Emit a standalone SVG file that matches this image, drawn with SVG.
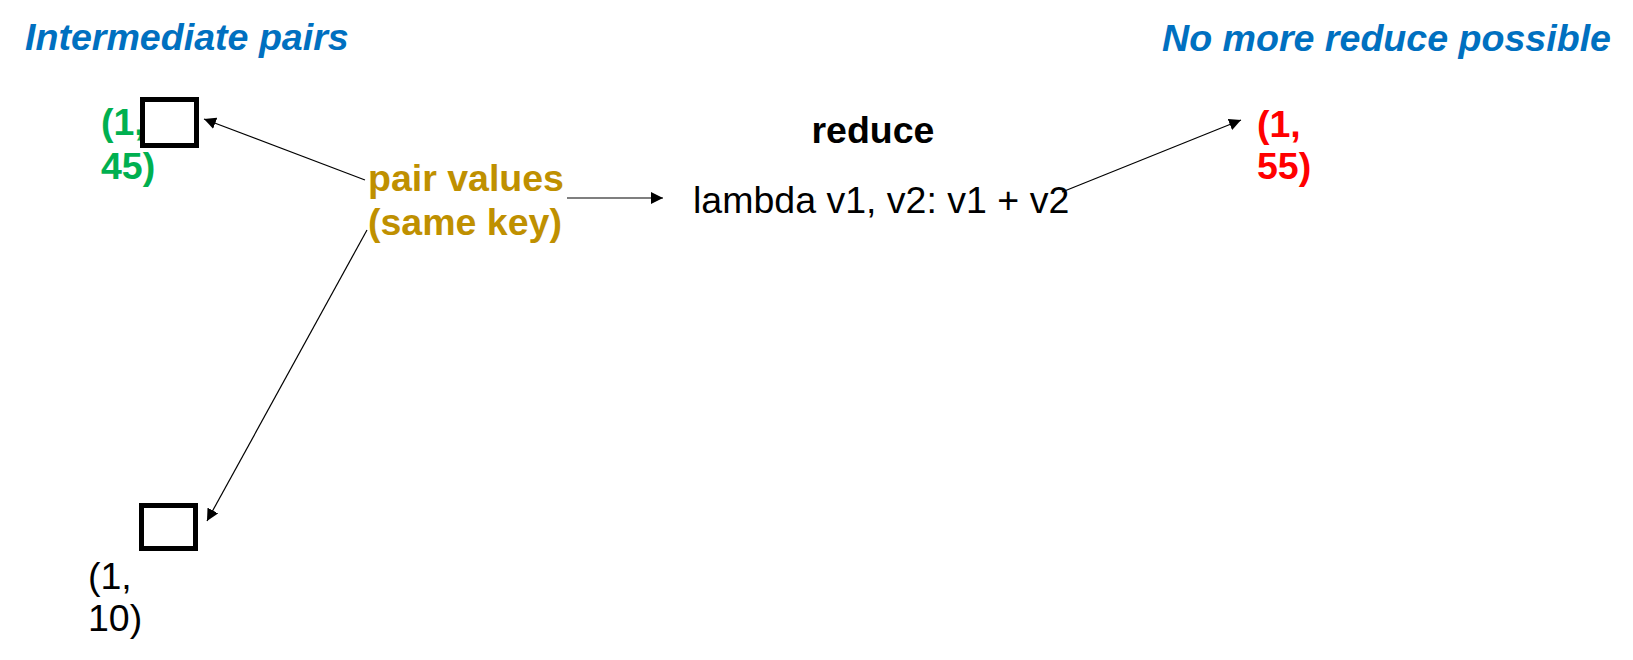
<svg xmlns="http://www.w3.org/2000/svg" width="1633" height="660" viewBox="0 0 1633 660">
<style>
  .title { font-family: "Liberation Sans", Arial, sans-serif; font-weight: bold; font-style: italic; font-size: 37.6px; fill: #0070C0; }
  .lbl { font-family: "Liberation Sans", Arial, sans-serif; font-size: 37.5px; }
  .b { font-weight: bold; }
  .box { fill: #fff; stroke: #000; stroke-width: 5; }
  .conn { stroke: #000; stroke-width: 1.2; fill: none; marker-end: url(#arr); }
</style>
<defs>
  <marker id="arr" viewBox="0 0 10 10" refX="10" refY="5" markerWidth="12" markerHeight="12" markerUnits="userSpaceOnUse" orient="auto">
    <path d="M0,0 L10,5 L0,10 z" fill="#000"/>
  </marker>
</defs>
<rect width="1633" height="660" fill="#fff"/>
<g id="title-left"><text class="title" x="25" y="50">Intermediate pairs</text></g>
<g id="title-right"><text class="title" x="1162" y="51">No more reduce possible</text></g>
<g id="pair-top">
  <text class="lbl b" x="101" y="135" fill="#00B050">(1,</text>
  <text class="lbl b" x="101" y="179" fill="#00B050">45)</text>
  <rect class="box" x="142.5" y="99.5" width="54" height="46"/>
</g>
<g id="pair-bottom">
  <rect class="box" x="141.5" y="505.5" width="54" height="43"/>
  <text class="lbl" x="88" y="589" fill="#000">(1,</text>
  <text class="lbl" x="88" y="631" fill="#000">10)</text>
</g>
<g id="pair-values">
  <text class="lbl b" x="368" y="191" fill="#BF9000">pair values</text>
  <text class="lbl b" x="368" y="235" fill="#BF9000">(same key)</text>
</g>
<g id="reduce">
  <text class="lbl b" x="873" y="143" text-anchor="middle" fill="#000">reduce</text>
  <text class="lbl" x="693" y="213" fill="#000">lambda v1, v2: v1 + v2</text>
</g>
<g id="result">
  <text class="lbl b" x="1257" y="137" fill="#FF0000">(1,</text>
  <text class="lbl b" x="1257" y="179" fill="#FF0000">55)</text>
</g>
<g id="connectors">
  <line class="conn" x1="365" y1="180" x2="204" y2="119"/>
  <line class="conn" x1="367" y1="230" x2="207" y2="521"/>
  <line class="conn" x1="567" y1="198" x2="663" y2="198"/>
  <line class="conn" x1="1062" y1="192" x2="1241" y2="120"/>
</g>
</svg>
